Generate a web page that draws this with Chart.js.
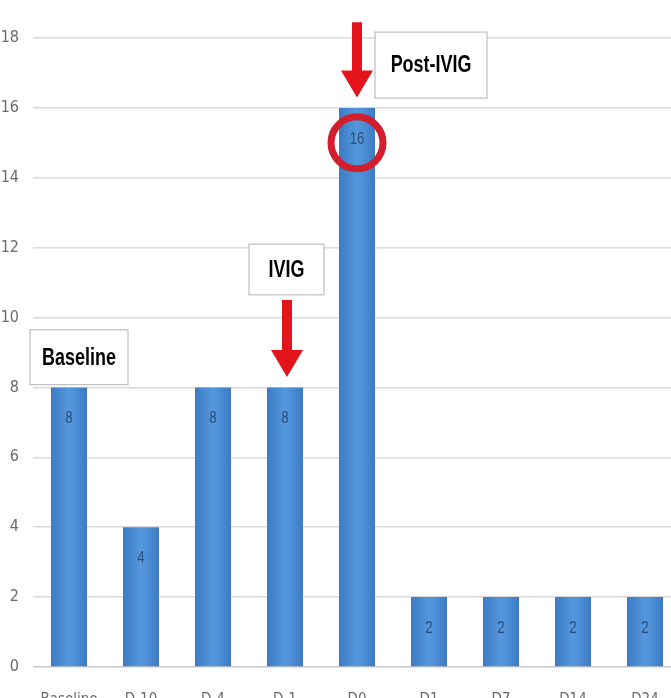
<!DOCTYPE html>
<html>
<head>
  <title>Bar chart</title>
  <script src="https://cdn.jsdelivr.net/npm/chart.js"></script>
  <style>
    html, body { margin: 0; padding: 0; background: #fff; overflow: hidden; }
    #wrap { width: 700px; height: 730px; }
  </style>
</head>
<body>
  <div id="wrap"><canvas id="myChart" width="700" height="730"></canvas></div>

  <script>
// datos
const labels = ['Baseline', 'D-10', 'D-4', 'D-1', 'D0', 'D1', 'D7', 'D14', 'D24'];
const counts = [8, 4, 8, 8, 16, 2, 2, 2, 2];
const yTicks = [0, 2, 4, 6, 8, 10, 12, 14, 16, 18];

const narrow = "'DejaVu Sans Condensed', 'Liberation Sans Narrow', 'Liberation Sans', sans-serif";

// texto estrecho (tipo Calibri) escalando en horizontal
function narrowText(ctx, text, x, y, font, color, sx) {
  ctx.save();
  ctx.font = font;
  ctx.fillStyle = color;
  ctx.textAlign = 'center';
  ctx.textBaseline = 'middle';
  ctx.translate(x, y);
  ctx.scale(sx, 1);
  ctx.fillText(text, 0, 0);
  ctx.restore();
}

// degradado de cada barra
function barColor(c) {
  const xs = c.chart.scales && c.chart.scales.x;
  if (c.type !== 'data' || !xs || !c.chart.chartArea) return '#4a8bd3';
  const cx = xs.getPixelForValue(c.dataIndex);
  const w = 18;
  const g = c.chart.ctx.createLinearGradient(cx - w, 0, cx + w, 0);
  g.addColorStop(0, '#3c7bc4');
  g.addColorStop(0.5, '#5598dd');
  g.addColorStop(1, '#3c7bc4');
  return g;
}

// etiquetas de valor dentro de las barras
const valueLabels = {
  id: 'valueLabels',
  afterDatasetsDraw(chart) {
    const ctx = chart.ctx;
    const meta = chart.getDatasetMeta(0);
    meta.data.forEach((bar, i) => {
      narrowText(ctx, String(counts[i]), bar.x, bar.y + 31, '17px Liberation Sans', '#2f4d75', 0.78);
    });
  }
};

// cajas, flechas y circulo
function box(ctx, x1, y1, x2, y2, text) {
  ctx.fillStyle = '#fff';
  ctx.fillRect(x1, y1, x2 - x1, y2 - y1);
  ctx.strokeStyle = '#bfbfbf';
  ctx.lineWidth = 1.2;
  ctx.strokeRect(x1, y1, x2 - x1, y2 - y1);
  narrowText(ctx, text, (x1 + x2) / 2, (y1 + y2) / 2 + 1, 'bold 23px Liberation Sans', '#000', 0.78);
}

function arrow(ctx, cx, yTop, yTip) {
  const shaft = 10, head = 16, headLen = 27;
  ctx.fillStyle = '#e3141b';
  ctx.beginPath();
  ctx.moveTo(cx - shaft / 2, yTop);
  ctx.lineTo(cx + shaft / 2, yTop);
  ctx.lineTo(cx + shaft / 2, yTip - headLen);
  ctx.lineTo(cx + head, yTip - headLen);
  ctx.lineTo(cx, yTip);
  ctx.lineTo(cx - head, yTip - headLen);
  ctx.lineTo(cx - shaft / 2, yTip - headLen);
  ctx.closePath();
  ctx.fill();
}

const annotations = {
  id: 'annotations',
  afterDraw(chart) {
    const ctx = chart.ctx;
    const x = chart.scales.x, y = chart.scales.y;
    ctx.save();
    // Baseline
    const xb = x.getPixelForValue(0);
    box(ctx, xb - 39, y.getPixelForValue(9.65), xb + 59, y.getPixelForValue(8.08), 'Baseline');
    // IVIG
    const xi = x.getPixelForValue(3);
    box(ctx, xi - 36, y.getPixelForValue(12.1), xi + 39, y.getPixelForValue(10.65), 'IVIG');
    arrow(ctx, xi + 2, y.getPixelForValue(10.5), y.getPixelForValue(8.3));
    // Post-IVIG
    const xp = x.getPixelForValue(4);
    box(ctx, xp + 18, y.getPixelForValue(18.17), xp + 130, y.getPixelForValue(16.28), 'Post-IVIG');
    arrow(ctx, xp, y.getPixelForValue(18.45), y.getPixelForValue(16.3));
    // circulo
    ctx.beginPath();
    ctx.arc(xp, y.getPixelForValue(15), 26, 0, Math.PI * 2);
    ctx.strokeStyle = '#d31f2c';
    ctx.lineWidth = 7;
    ctx.stroke();
    ctx.restore();
  }
};

const myChart = new Chart(document.getElementById('myChart'), {
  type: 'bar',
  data: {
    labels: labels,
    datasets: [{
      label: 'n',
      data: counts,
      backgroundColor: barColor,
      borderWidth: 0,
      barPercentage: 0.5,
      categoryPercentage: 1
    }]
  },
  options: {
    responsive: false,
    animation: false,
    layout: { padding: { top: 38, right: 19, left: 0, bottom: 0 } },
    plugins: {
      legend: { display: false },
      tooltip: { enabled: false }
    },
    scales: {
      x: {
        grid: { display: false, drawTicks: false },
        border: { display: false },
        ticks: {
          color: '#6b6b6b',
          font: { family: narrow, size: 15, style: 'condensed' },
          padding: 24,
          maxRotation: 0,
          autoSkip: false
        },
        afterFit(scale) { scale.height = 63; }
      },
      y: {
        min: 0,
        max: 18,
        afterBuildTicks(scale) { scale.ticks = yTicks.map(v => ({ value: v })); },
        grid: {
          color: (c) => c.tick && c.tick.value === 0 ? '#c8c8c8' : '#dadada',
          lineWidth: 1.5,
          drawTicks: false
        },
        border: { display: false },
        ticks: {
          color: '#6b6b6b',
          font: { family: narrow, size: 16, style: 'condensed' },
          padding: 14
        },
        afterFit(scale) { scale.width = 33; }
      }
    }
  },
  plugins: [valueLabels, annotations]
});
  </script>
</body>
</html>
